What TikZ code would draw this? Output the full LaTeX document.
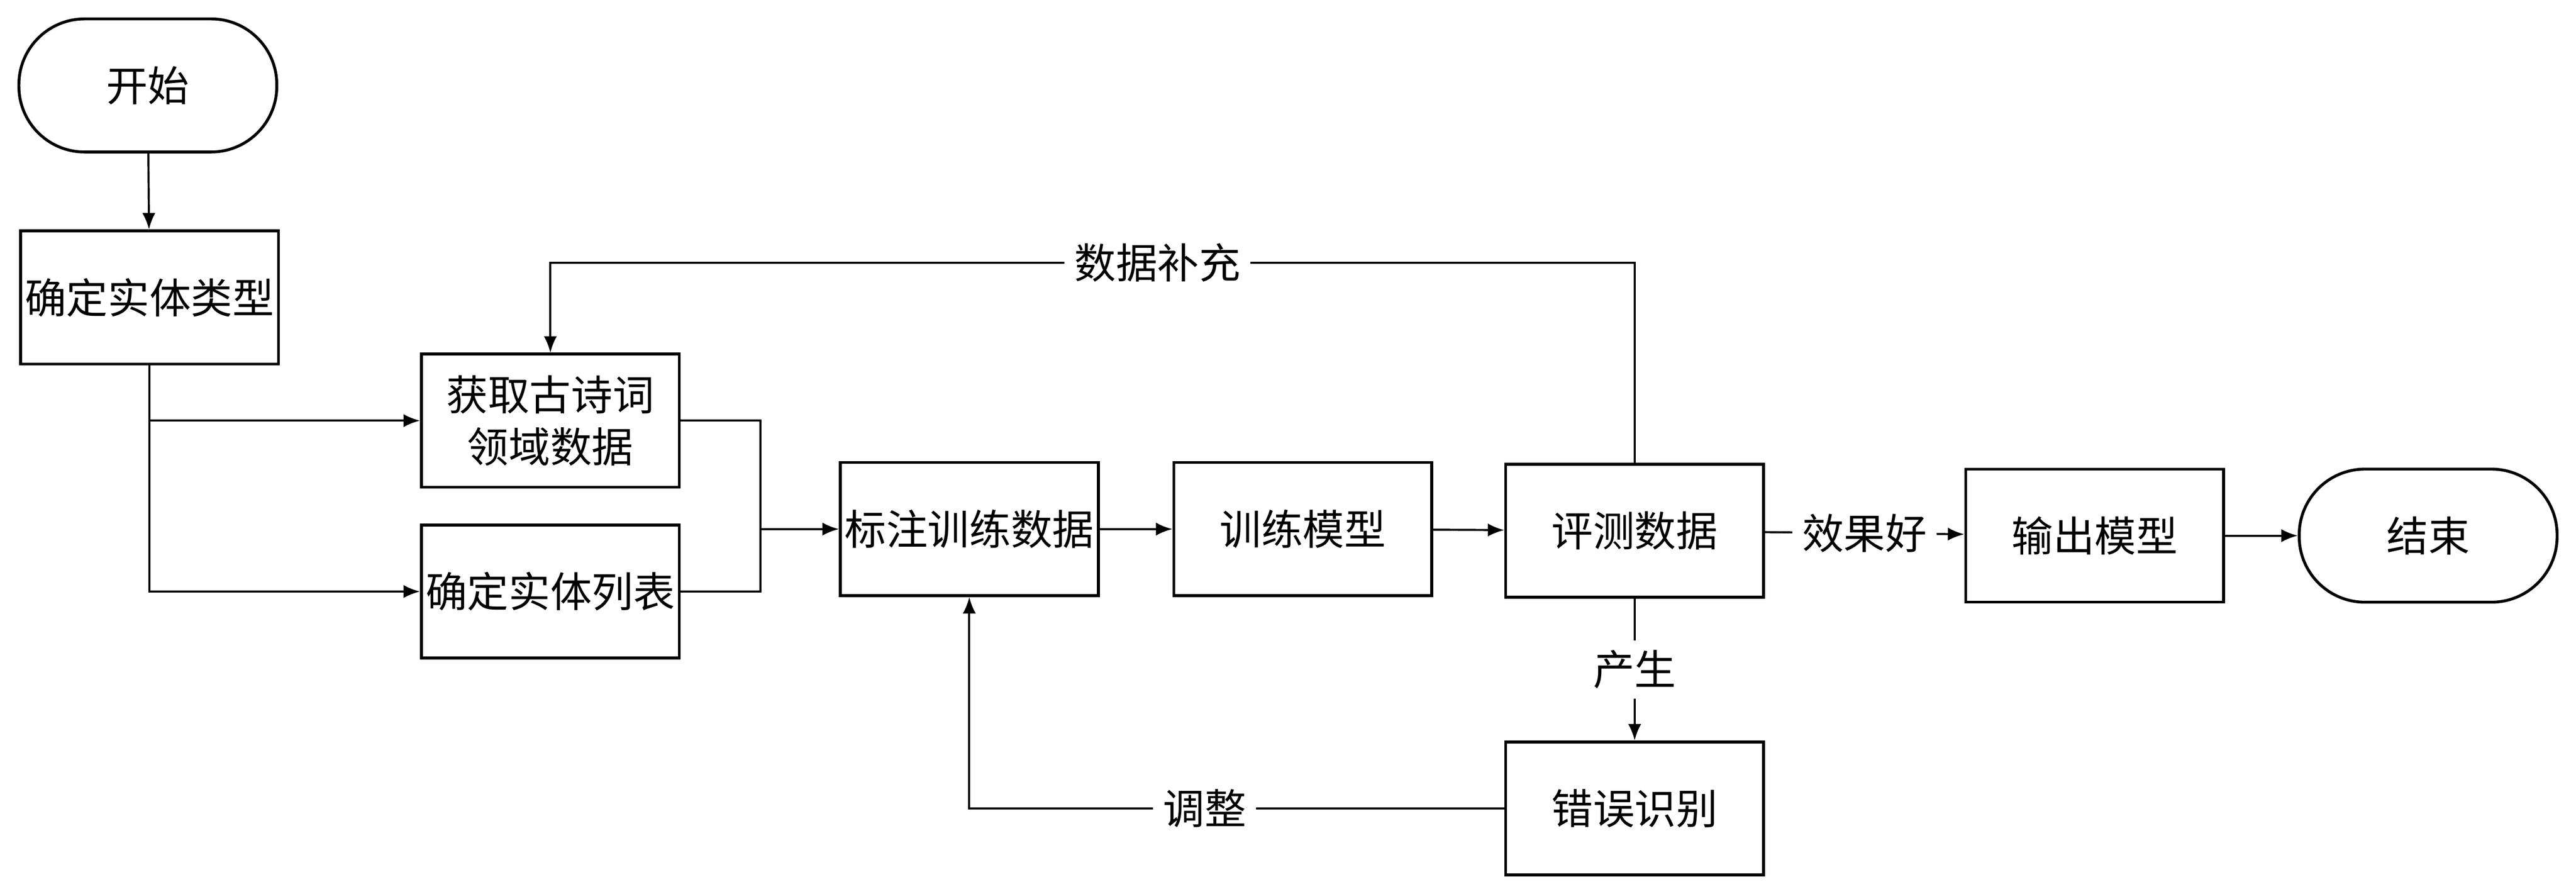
\documentclass[tikz,border=0pt]{standalone}
\usepackage{fontspec}
\newfontfamily\cjk{Noto Sans CJK SC}
\usetikzlibrary{arrows.meta}
\begin{document}
\begin{tikzpicture}[x=0.1cm,y=-0.1cm,
  every node/.style={font=\cjk\fontsize{72}{90}\selectfont},
  box/.style={draw,line width=5pt,minimum width=15.7cm,minimum height=8.1cm,inner sep=0pt,align=center},
  term/.style={box,rounded corners=4cm},
  lab/.style={fill=white,inner sep=0.6cm},
  line/.style={line width=3.5pt},
  arr/.style={line,-{Latex[length=1cm,width=0.8cm]}}]
\useasboundingbox (0,0) rectangle (1568,544);
\node[term] (start) at (90,52) {开始};
\node[box] (type) at (91,181) {确定实体类型};
\node[box] (get) at (335,256) {获取古诗词\\领域数据};
\node[box] (list) at (335,360) {确定实体列表};
\node[box] (mark) at (590,322) {标注训练数据};
\node[box] (train) at (793,322) {训练模型};
\node[box] (eval) at (995,323) {评测数据};
\node[box] (out) at (1275,326) {输出模型};
\node[term] (end) at (1478,326) {结束};
\node[box] (err) at (995,492) {错误识别};
\coordinate (j) at (463,322);
\draw[arr] (start) -- (type);
\draw[arr] (type.south) |- (get.west);
\draw[arr] (type.south) |- (list.west);
\draw[line] (get.east) -| (j);
\draw[line] (list.east) -| (j);
\draw[arr] (j) -- (mark);
\draw[arr] (mark) -- (train);
\draw[arr] (train) -- (eval);
\draw[arr] (eval) -- node[lab]{效果好} (out);
\draw[arr] (out) -- (end);
\draw[arr] (eval.north) |- node[lab,pos=0.72]{数据补充} (335,160) -- (get.north);
\draw[arr] (eval) -- node[lab]{产生} (err);
\draw[arr] (err.west) -| node[lab,pos=0.28]{调整} (mark.south);
\end{tikzpicture}
\end{document}
